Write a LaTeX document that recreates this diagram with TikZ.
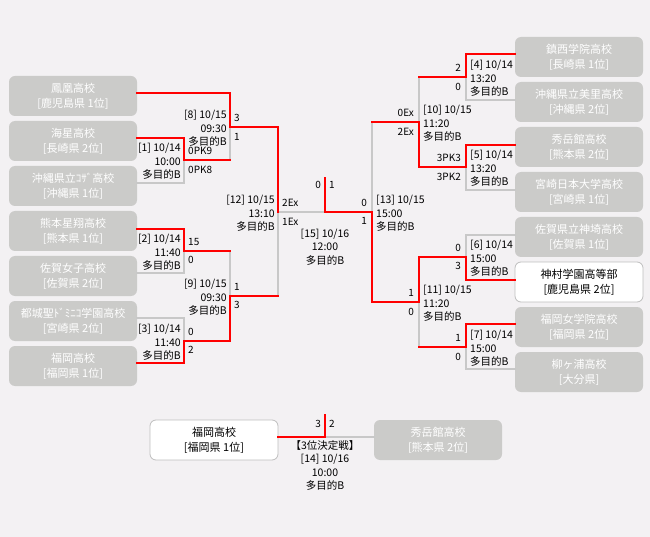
\documentclass[tikz,border=0pt]{standalone}
\usepackage{fontspec}
\setmainfont{Noto Sans CJK JP}
\definecolor{bg}{RGB}{243,241,243}
\definecolor{boxgray}{RGB}{203,203,201}
\definecolor{linegray}{RGB}{200,200,200}
\definecolor{bordergray}{RGB}{190,190,190}
\definecolor{winred}{RGB}{255,0,0}
\tikzset{
  gbox/.style={rectangle, rounded corners=6pt, fill=boxgray, minimum width=128pt, minimum height=40pt, text=white, align=center, font=\fontsize{11}{15}\selectfont, inner sep=0pt},
  wbox/.style={gbox, fill=white, draw=bordergray, line width=0.8pt, text=black},
  rl/.style={draw=winred, line width=2pt, line cap=rect},
  gl/.style={draw=linegray, line width=2pt, line cap=rect},
  info/.style={font=\fontsize{10.5}{13.5}\selectfont, inner sep=0pt},
  infol/.style={info, align=right, anchor=east},
  infor/.style={info, align=left, anchor=west},
  infoc/.style={info, align=center},
  sc/.style={font=\fontsize{10}{12}\selectfont, inner sep=0pt},
  scl/.style={sc, anchor=west},
  scr/.style={sc, anchor=east},
}
\begin{document}
\begin{tikzpicture}[x=1pt,y=-1pt]
\fill[bg] (0,0) rectangle (650,537);
\useasboundingbox (0,0) rectangle (650,537);

% coordinates
\coordinate (m1t) at (184,138); \coordinate (m1m) at (184,160); \coordinate (m1b) at (184,183);
\coordinate (m2t) at (184,229); \coordinate (m2m) at (184,251); \coordinate (m2b) at (184,273);
\coordinate (m3t) at (184,318); \coordinate (m3m) at (184,341); \coordinate (m3b) at (184,363);
\coordinate (m8t) at (230,93);  \coordinate (m8m) at (230,127); \coordinate (m8b) at (230,160);
\coordinate (m9t) at (230,251); \coordinate (m9m) at (230,296); \coordinate (m9b) at (230,341);
\coordinate (m12t) at (278,127); \coordinate (m12m) at (278,212); \coordinate (m12b) at (278,296);
\coordinate (fc) at (325,212); \coordinate (ftop) at (325,178);
\coordinate (m13t) at (372,122); \coordinate (m13m) at (372,212); \coordinate (m13b) at (372,302);
\coordinate (m10t) at (419,77); \coordinate (m10m) at (419,122); \coordinate (m10b) at (419,167);
\coordinate (m11t) at (419,257); \coordinate (m11m) at (419,302); \coordinate (m11b) at (419,347);
\coordinate (m4t) at (466,54); \coordinate (m4m) at (466,77); \coordinate (m4b) at (466,100);
\coordinate (m5t) at (466,145); \coordinate (m5m) at (466,167); \coordinate (m5b) at (466,190);
\coordinate (m6t) at (466,235); \coordinate (m6m) at (466,257); \coordinate (m6b) at (466,280);
\coordinate (m7t) at (466,324); \coordinate (m7m) at (466,347); \coordinate (m7b) at (466,369);
\coordinate (tt) at (325,437); \coordinate (ttop) at (325,415);

% boxes
\node[gbox] (L1) at (73,96) {鳳凰高校\\{}[鹿児島県 1位]};
\node[gbox] (L2) at (73,141) {海星高校\\{}[長崎県 2位]};
\node[gbox] (L3) at (73,186) {沖縄県立ｺｻﾞ高校\\{}[沖縄県 1位]};
\node[gbox] (L4) at (73,231) {熊本星翔高校\\{}[熊本県 1位]};
\node[gbox] (L5) at (73,276) {佐賀女子高校\\{}[佐賀県 2位]};
\node[gbox] (L6) at (73,321) {都城聖ﾄﾞﾐﾆｺ学園高校\\{}[宮崎県 2位]};
\node[gbox] (L7) at (73,366) {福岡高校\\{}[福岡県 1位]};
\node[gbox] (R1) at (579,57) {鎮西学院高校\\{}[長崎県 1位]};
\node[gbox] (R2) at (579,102) {沖縄県立美里高校\\{}[沖縄県 2位]};
\node[gbox] (R3) at (579,147) {秀岳館高校\\{}[熊本県 2位]};
\node[gbox] (R4) at (579,192) {宮崎日本大学高校\\{}[宮崎県 1位]};
\node[gbox] (R5) at (579,237) {佐賀県立神埼高校\\{}[佐賀県 1位]};
\node[wbox] (R6) at (579,282) {神村学園高等部\\{}[鹿児島県 2位]};
\node[gbox] (R7) at (579,327) {福岡女学院高校\\{}[福岡県 2位]};
\node[gbox] (R8) at (579,372) {柳ヶ浦高校\\{}[大分県]};
\node[wbox] (T1) at (214,440) {福岡高校\\{}[福岡県 1位]};
\node[gbox] (T2) at (438,440) {秀岳館高校\\{}[熊本県 2位]};

% gray lines
\draw[gl] (L3.east|-m1b) -- (m1b) -- (m1m);
\draw[gl] (m8m) -- (m8b);
\draw[gl] (L5.east|-m2b) -- (m2b) -- (m2m);
\draw[gl] (L6.east|-m3t) -- (m3t) -- (m3m);
\draw[gl] (m9t) -- (m9m);
\draw[gl] (m12b) -- (m12m) -- (fc);
\draw[gl] (m13t) -- (m13m);
\draw[gl] (m10t) -- (m10m);
\draw[gl] (m4m) -- (m4b) -- (R2.west|-m4b);
\draw[gl] (m5m) -- (m5b) -- (R4.west|-m5b);
\draw[gl] (m11m) -- (m11b);
\draw[gl] (R5.west|-m6t) -- (m6t) -- (m6m);
\draw[gl] (m7m) -- (m7b) -- (R8.west|-m7b);
\draw[gl] (tt) -- (T2.west|-tt);

% red lines
\draw[rl] (L2.east|-m1t) -- (m1t) -- (m1m) -- (m8b);
\draw[rl] (L1.east|-m8t) -- (m8t) -- (m8m) -- (m12t) -- (m12m);
\draw[rl] (L4.east|-m2t) -- (m2t) -- (m2m) -- (m9t);
\draw[rl] (L7.east|-m3b) -- (m3b) -- (m3m) -- (m9b) -- (m9m) -- (m12b);
\draw[rl] (ftop) -- (fc) -- (m13m) -- (m13b) -- (m11m) -- (m11t) -- (m6m) -- (m6b) -- (R6.west|-m6b);
\draw[rl] (m13t) -- (m10m) -- (m10b) -- (m5m) -- (m5t) -- (R3.west|-m5t);
\draw[rl] (R1.west|-m4t) -- (m4t) -- (m4m) -- (m10t);
\draw[rl] (R7.west|-m7t) -- (m7t) -- (m7m) -- (m11b);
\draw[rl] (T1.east|-tt) -- (tt) -- (ttop);

% match info
\node[infol] (i1) at (181,161.5) {[1] 10/14\\10:00\\多目的B};
\node[infol] (i8) at (227,128.5) {[8] 10/15\\09:30\\多目的B};
\node[infol] (i2) at (181,252.5) {[2] 10/14\\11:40\\多目的B};
\node[infol] (i3) at (181,342.5) {[3] 10/14\\11:40\\多目的B};
\node[infol] (i9) at (227,297.5) {[9] 10/15\\09:30\\多目的B};
\node[infol] (i12) at (275,213.5) {[12] 10/15\\13:10\\多目的B};
\node[infor] (i4) at (470,78.5) {[4] 10/14\\13:20\\多目的B};
\node[infor] (i5) at (470,168.5) {[5] 10/14\\13:20\\多目的B};
\node[infor] (i10) at (423,123.5) {[10] 10/15\\11:20\\多目的B};
\node[infor] (i13) at (376,213.5) {[13] 10/15\\15:00\\多目的B};
\node[infor] (i6) at (470,258.5) {[6] 10/14\\15:00\\多目的B};
\node[infor] (i7) at (470,348.5) {[7] 10/14\\15:00\\多目的B};
\node[infor] (i11) at (423,303.5) {[11] 10/15\\11:20\\多目的B};
\node[infoc] (i15) at (325,247) {[15] 10/16\\12:00\\多目的B};
\node[infoc] (i14) at (325,465.5) {【3位決定戦】\\{}[14] 10/16\\10:00\\多目的B};

% scores
\node[scl] (s1a) at (188,151) {0PK9};
\node[scl] (s1b) at (188,170) {0PK8};
\node[scl] (s8a) at (234,118) {3};
\node[scl] (s8b) at (234,137) {1};
\node[scl] (s2a) at (188,242) {15};
\node[scl] (s2b) at (188,260) {0};
\node[scl] (s3a) at (188,332) {0};
\node[scl] (s3b) at (188,350) {2};
\node[scl] (s9a) at (234,287) {1};
\node[scl] (s9b) at (234,305) {3};
\node[scl] (s12a) at (282,203) {2Ex};
\node[scl] (s12b) at (282,222) {1Ex};
\node[scr] (s4a) at (461,68) {2};
\node[scr] (s4b) at (461,87) {0};
\node[scr] (s5a) at (461,158) {3PK3};
\node[scr] (s5b) at (461,177) {3PK2};
\node[scr] (s10a) at (414,113) {0Ex};
\node[scr] (s10b) at (414,132) {2Ex};
\node[scr] (s13a) at (367,203) {0};
\node[scr] (s13b) at (367,221) {1};
\node[scr] (s6a) at (461,248) {0};
\node[scr] (s6b) at (461,266) {3};
\node[scr] (s7a) at (461,338) {1};
\node[scr] (s7b) at (461,357) {0};
\node[scr] (s11a) at (414,293) {1};
\node[scr] (s11b) at (414,312) {0};
\node[scr] (s15a) at (321,185) {0};
\node[scl] (s15b) at (329,185) {1};
\node[scr] (s14a) at (321,424) {3};
\node[scl] (s14b) at (329,424) {2};
\end{tikzpicture}
\end{document}
